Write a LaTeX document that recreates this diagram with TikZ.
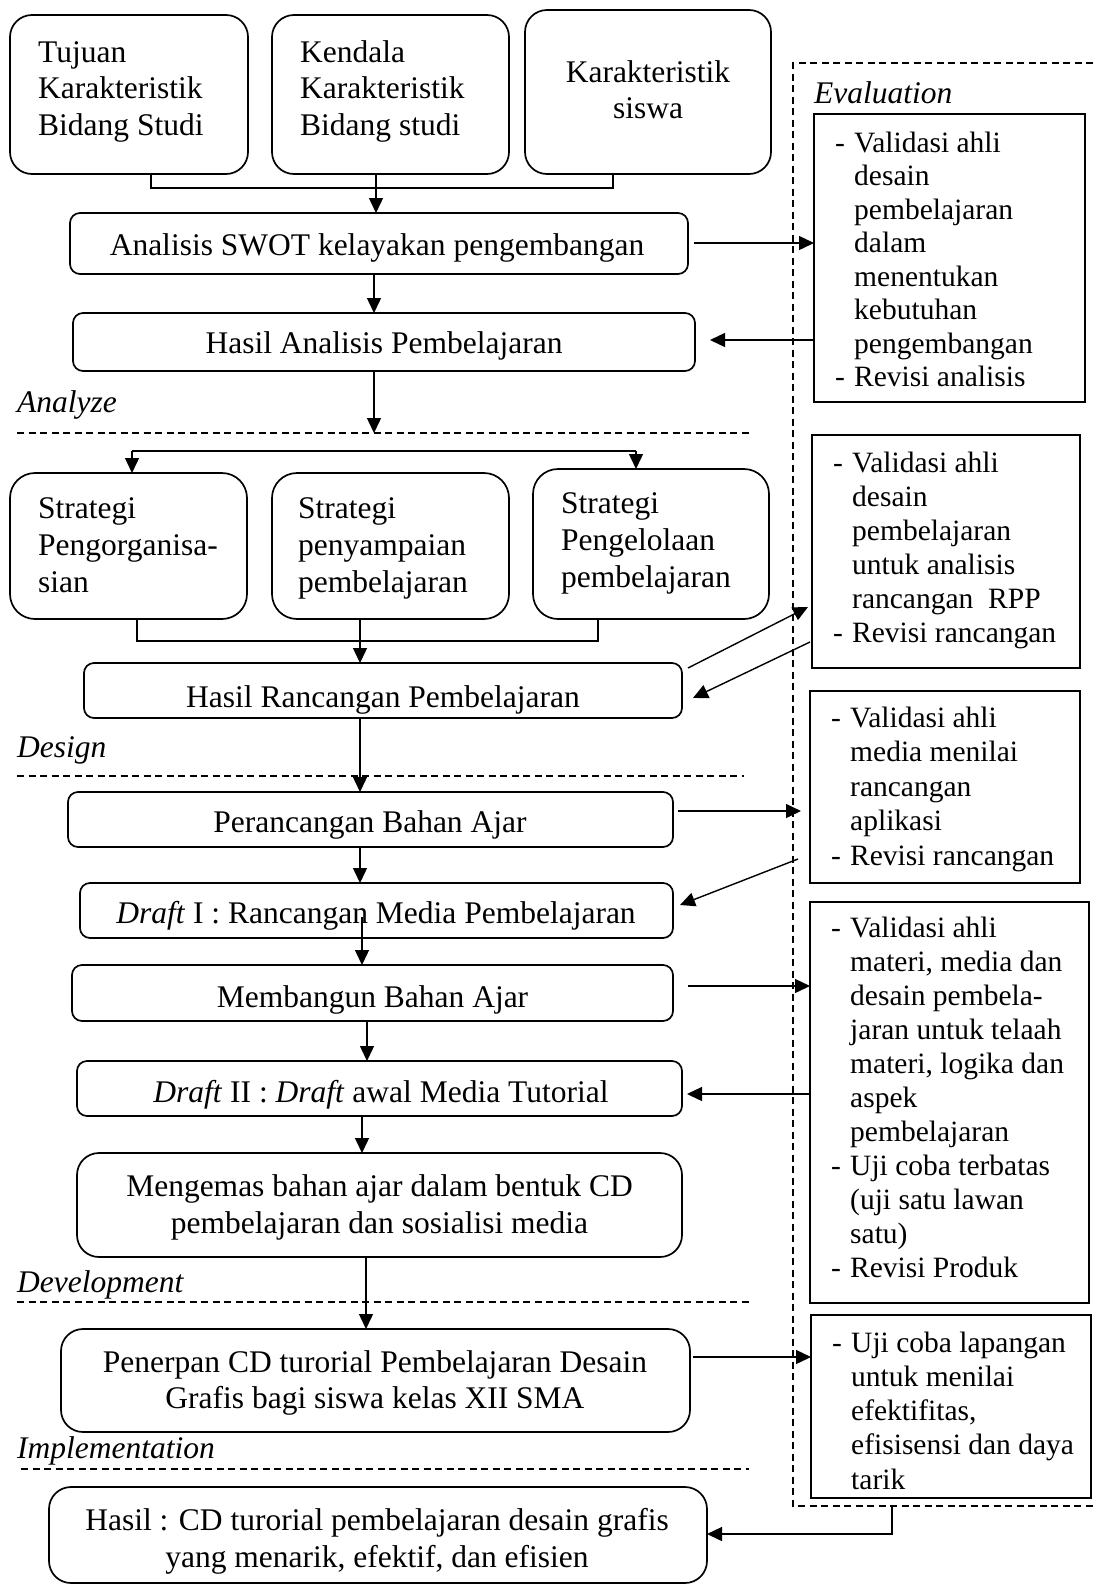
\documentclass[tikz,border=0pt]{standalone}
\usepackage{fontspec}
\setmainfont{Liberation Serif}
\usetikzlibrary{arrows.meta,calc}
\newcommand{\Lstk}[2]{\parbox[t]{300pt}{\raggedright\baselineskip=#1pt\relax #2}}
\newcommand{\Cstk}[3]{\parbox[t]{#1pt}{\centering\baselineskip=#2pt\relax #3}}
\newcommand{\dashitem}{\makebox[19pt][l]{-}}
\newcommand{\contitem}{\hspace*{19pt}}
\begin{document}
\begin{tikzpicture}[x=1pt,y=-1pt,
  box/.style={draw, line width=1.7pt, inner sep=0pt, outer sep=0pt, anchor=north west},
  rb/.style={box, rounded corners=#1},
  ln/.style={line width=1.4pt},
  arr/.style={ln, -{Triangle[length=15pt,width=14pt]}},
  sepl/.style={line width=1.2pt, dash pattern=on 7pt off 4.5pt},
  tx/.style={inner sep=0pt, anchor=base west, font=\fontsize{31.5}{36.5}\selectfont},
  tc/.style={tx, anchor=base},
  te/.style={tx, font=\fontsize{29.5}{34}\selectfont},
  ph/.style={tx, font=\fontsize{31.5}{36.5}\selectfont\itshape}]
\useasboundingbox (0,0) rectangle (1093,1585);

% ---------- boxes ----------
\node[rb=22pt, minimum width=238pt, minimum height=159pt] (t1) at (10,15) {};
\node[rb=22pt, minimum width=237pt, minimum height=159pt] (t2) at (272,15) {};
\node[rb=22pt, minimum width=246pt, minimum height=164pt] (t3) at (525,10) {};
\node[rb=10pt, minimum width=618pt, minimum height=61pt] (swot) at (70,213) {};
\node[rb=10pt, minimum width=622pt, minimum height=58pt] (ha) at (73,313) {};
\node[rb=25pt, minimum width=237pt, minimum height=146pt] (s1) at (10,473) {};
\node[rb=25pt, minimum width=237pt, minimum height=146pt] (s2) at (272,473) {};
\node[rb=25pt, minimum width=236pt, minimum height=150pt] (s3) at (533,469) {};
\node[rb=10pt, minimum width=598pt, minimum height=55pt] (hr) at (84,663) {};
\node[rb=10pt, minimum width=605pt, minimum height=55pt] (pb) at (68,792) {};
\node[rb=10pt, minimum width=593pt, minimum height=55pt] (d1) at (80,883) {};
\node[rb=10pt, minimum width=601pt, minimum height=56pt] (mb) at (72,965) {};
\node[rb=10pt, minimum width=605pt, minimum height=55pt] (d2) at (77,1061) {};
\node[rb=22pt, minimum width=605pt, minimum height=104pt] (mk) at (77,1153) {};
\node[rb=22pt, minimum width=629pt, minimum height=103pt] (pn) at (61,1329) {};
\node[rb=22pt, minimum width=658pt, minimum height=96pt] (hs) at (49,1487) {};

\node[box, minimum width=271pt, minimum height=288pt] (e1) at (814,114) {};
\node[box, minimum width=268pt, minimum height=233pt] (e2) at (812,435) {};
\node[box, minimum width=270pt, minimum height=192pt] (e3) at (810,691) {};
\node[box, minimum width=279pt, minimum height=401pt] (e4) at (810,902) {};
\node[box, minimum width=280pt, minimum height=183pt] (e5) at (811,1315) {};

% ---------- texts ----------
\node[tx] (t1x) at (38,62) {\Lstk{36.5}{Tujuan\\Karakteristik\\Bidang Studi}};
\node[tx] (t2x) at (300,62) {\Lstk{36.5}{Kendala\\Karakteristik\\Bidang studi}};
\node[tc] (t3x) at (648,82) {\Cstk{240}{36.5}{Karakteristik\\siswa}};
\node[tc] (swotx) at (377,255) {Analisis SWOT kelayakan pengembangan};
\node[tc] (hax) at (384,353) {Hasil Analisis Pembelajaran};
\node[tx] (s1x) at (38,518) {\Lstk{37}{Strategi\\Pengorganisa-\\sian}};
\node[tx] (s2x) at (298,518) {\Lstk{37}{Strategi\\penyampaian\\pembelajaran}};
\node[tx] (s3x) at (561,513) {\Lstk{37}{Strategi\\Pengelolaan\\pembelajaran}};
\node[tc] (hrx) at (383,707) {Hasil Rancangan Pembelajaran};
\node[tc] (pbx) at (370,832) {Perancangan Bahan Ajar};
\node[tc] (d1x) at (376,923) {\textit{Draft} I : Rancangan Media Pembelajaran};
\node[tc] (mbx) at (372.5,1007) {Membangun Bahan Ajar};
\node[tc] (d2x) at (381,1102) {\textit{Draft} II : \textit{Draft} awal Media Tutorial};
\node[tc] (mkx) at (379.5,1196) {\Cstk{600}{37}{Mengemas bahan ajar dalam bentuk CD\\pembelajaran dan sosialisi media}};
\node[tc] (pnx) at (375,1372) {\Cstk{620}{36}{Penerpan CD turorial Pembelajaran Desain\\Grafis bagi siswa kelas XII SMA}};
\node[tc] (hsx) at (377,1530) {\Cstk{650}{37}{Hasil : CD turorial pembelajaran desain grafis\\yang menarik, efektif, dan efisien}};

\node[te] (e1x) at (835,152) {\Lstk{33.5}{\dashitem Validasi ahli\\\contitem desain\\\contitem pembelajaran\\\contitem dalam\\\contitem menentukan\\\contitem kebutuhan\\\contitem pengembangan\\\dashitem Revisi analisis}};
\node[te] (e2x) at (833,472) {\Lstk{34}{\dashitem Validasi ahli\\\contitem desain\\\contitem pembelajaran\\\contitem untuk analisis\\\contitem rancangan~ RPP\\\dashitem Revisi rancangan}};
\node[te] (e3x) at (831,727) {\Lstk{34.5}{\dashitem Validasi ahli\\\contitem media menilai\\\contitem rancangan\\\contitem aplikasi\\\dashitem Revisi rancangan}};
\node[te] (e4x) at (831,937) {\Lstk{34}{\dashitem Validasi ahli\\\contitem materi, media dan\\\contitem desain pembela-\\\contitem jaran untuk telaah\\\contitem materi, logika dan\\\contitem aspek\\\contitem pembelajaran\\\dashitem Uji coba terbatas\\\contitem (uji satu lawan\\\contitem satu)\\\dashitem Revisi Produk}};
\node[te] (e5x) at (832,1352) {\Lstk{34.3}{\dashitem Uji coba lapangan\\\contitem untuk menilai\\\contitem efektifitas,\\\contitem efisisensi dan daya\\\contitem tarik}};

% phase labels
\node[ph] (anl) at (17,412) {Analyze};
\node[ph] (dsl) at (17,757) {Design};
\node[ph] (dvl) at (17,1292) {Development};
\node[ph] (iml) at (17,1458) {Implementation};
\node[ph] (evl) at (814,103) {Evaluation};

% ---------- separators and evaluation frame ----------
\coordinate (sa1) at (17,433);  \coordinate (sa2) at (749,433);
\coordinate (sb1) at (17,776);  \coordinate (sb2) at (744,776);
\coordinate (sc1) at (17,1302); \coordinate (sc2) at (749,1302);
\coordinate (sd1) at (21,1469); \coordinate (sd2) at (749,1469);
\draw[sepl] (sa1) -- (sa2);
\draw[sepl] (sb1) -- (sb2);
\draw[sepl] (sc1) -- (sc2);
\draw[sepl] (sd1) -- (sd2);
\coordinate (ev1) at (1093,63); \coordinate (ev2) at (793,63);
\coordinate (ev3) at (793,1506); \coordinate (ev4) at (1093,1506);
\draw[sepl] (ev1) -- (ev2) -- (ev3) -- (ev4);

% ---------- connectors ----------
\coordinate (j1) at (151,188); \coordinate (j3) at (613,188);
\coordinate (xa) at (376,0); \coordinate (xb) at (374,0);
\draw[ln] (t1.south -| j1) -- (j1) -- (j3) -- (t3.south -| j3);
\draw[arr] (t2.south -| xa) -- (swot.north -| xa);
\draw[arr] (swot.south -| xb) -- (ha.north -| xb);
\coordinate (an) at (374,433);
\draw[arr] (ha.south -| an) -- (an);

\coordinate (ya) at (0,243); \coordinate (yb) at (0,340);
\draw[arr] ($(swot.east |- ya)+(6,0)$) -- (e1.west |- ya);
\draw[arr] (e1.west |- yb) -- ($(ha.east |- yb)+(15,0)$);

\coordinate (k1) at (132,451); \coordinate (k3) at (636,451);
\draw[ln] (k1) -- (k3);
\draw[arr] (k1) -- (s1.north -| k1);
\draw[arr] (k3) -- (s3.north -| k3);
\coordinate (m1) at (137,641); \coordinate (m3) at (598,641); \coordinate (xc) at (360,0);
\draw[ln] (s1.south -| m1) -- (m1) -- (m3) -- (s3.south -| m3);
\draw[arr] (s2.south -| xc) -- (hr.north -| xc);

\coordinate (yc) at (0,607); \coordinate (yd) at (0,642);
\draw[arr] ($(hr.north east)+(6,5)$) -- ($(e2.west |- yc)+(-4,0)$);
\draw[arr] ($(e2.west |- yd)+(-2,0)$) -- ($(hr.north east)+(11,35)$);

\draw[arr] (hr.south -| xc) -- (pb.north -| xc);
\coordinate (ye) at (0,811);
\draw[arr] ($(pb.east |- ye)+(5,0)$) -- ($(e3.west |- ye)+(-9,0)$);
\draw[arr] (pb.south -| xc) -- (d1.north -| xc);
\draw[arr] ($(e3.south west)+(-12,-24)$) -- ($(d1.north east)+(7,22)$);

\coordinate (xd) at (362,0); \coordinate (xe) at (367,0); \coordinate (xf) at (366,0);
\draw[arr] ($(d1.south -| xd)+(0,-21)$) -- (mb.north -| xd);
\coordinate (yf) at (0,986);
\draw[arr] ($(mb.east |- yf)+(15,0)$) -- (e4.west |- yf);
\draw[arr] (mb.south -| xe) -- (d2.north -| xe);
\coordinate (yg) at (0,1094);
\draw[arr] (e4.west |- yg) -- ($(d2.east |- yg)+(5,0)$);
\draw[arr] (d2.south -| xd) -- (mk.north -| xd);
\draw[arr] (mk.south -| xf) -- (pn.north -| xf);
\coordinate (yh) at (0,1357);
\draw[arr] ($(pn.east |- yh)+(3,0)$) -- (e5.west |- yh);

\coordinate (fb) at (892,1534);
\draw[arr] (fb |- ev3) -- (fb) -- (hs.east |- fb);
\end{tikzpicture}
\end{document}
